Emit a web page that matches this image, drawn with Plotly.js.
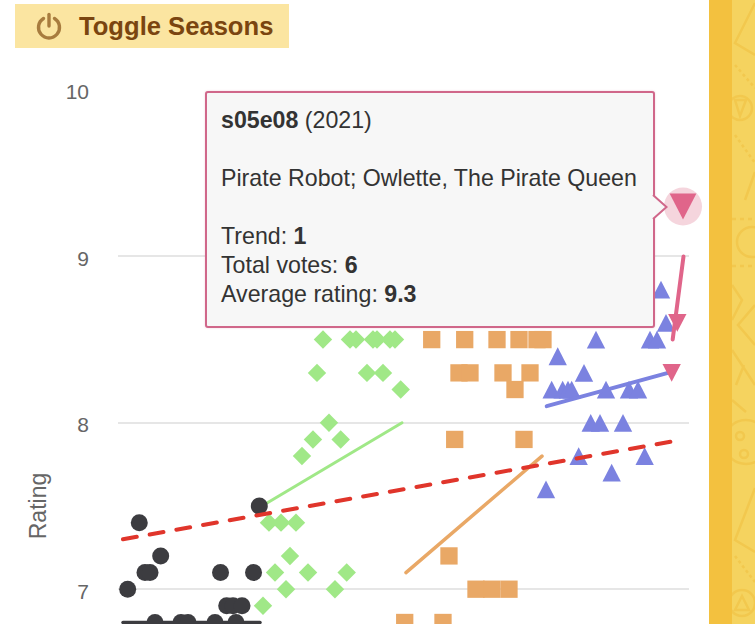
<!DOCTYPE html>
<html><head><meta charset="utf-8">
<script src="https://cdn.plot.ly/plotly-3.0.1.min.js"></script>
<style>
html,body{margin:0;padding:0;width:755px;height:624px;overflow:hidden;background:#fff;font-family:"Liberation Sans",Arial,sans-serif}
#chart{position:absolute;left:0;top:0;width:709px;height:1000px}
#strip{position:absolute;left:709px;top:0;width:46px;height:624px;background:#f3c13f}
#strip svg{position:absolute;left:23px;top:0}
#btn{position:absolute;left:15px;top:4px;width:274px;height:44px;background:#fbe5a1;display:flex;align-items:center;color:#7a4510;font-weight:bold;font-size:25.6px}
#btn svg{margin-left:20px;margin-right:16px}
#tip{position:absolute;left:205px;top:91px;width:446px;height:233px;background:#f7f7f7;border:2px solid #d0678a;border-radius:3px;box-shadow:0 0 2px rgba(208,103,138,.35);color:#333;font-size:23.2px;line-height:29px}
#tip div{position:absolute;left:14px;white-space:nowrap}
#notch{position:absolute;left:651px;top:193px}
</style></head><body>
<div id="chart"></div>
<div id="strip"><svg width="23" height="624" fill="none"><rect width="23" height="624" fill="#f5d35f"/>
<g stroke="#f2c84e" stroke-width="2.5" fill="none">
<path d="M23 3L3 43L23 55"/><path d="M3 65L23 88" stroke-dasharray="3 3"/><circle cx="8" cy="108" r="12"/><path d="M3 100H14L8 116Z"/>
<path d="M3 135L23 163" stroke-dasharray="3 3"/><path d="M23 172L13 200"/>
<path d="M0 219H23M0 266H23" stroke-dasharray="4 4"/><circle cx="20" cy="242" r="15"/>
<path d="M0 285L10 300L0 320M23 305L6 325L23 345"/><path d="M0 350L23 385M12 365L4 385M0 400L14 412"/>
<circle cx="14" cy="442" r="22"/><circle cx="8" cy="436" r="4"/><circle cx="12" cy="454" r="4"/>
<path d="M23 488L3 540L23 552"/><path d="M3 556L23 582" stroke-dasharray="3 3"/><circle cx="10" cy="603" r="13"/><path d="M3 610H17L10 596Z"/></g></svg></div>
<div id="btn"><svg width="28" height="28" viewBox="0 0 28 28" fill="none" stroke="#a87c3e" stroke-width="3.4" stroke-linecap="round"><path d="M8.5 6.5a10.5 10.5 0 1 0 11 0"/><path d="M14 2.5V14"/></svg><span>Toggle Seasons</span></div>
<div id="tip">
<div style="top:13px"><b>s05e08</b> (2021)</div>
<div style="top:71px">Pirate Robot; Owlette, The Pirate Queen</div>
<div style="top:129px">Trend: <b>1</b></div>
<div style="top:158px">Total votes: <b>6</b></div>
<div style="top:187px">Average rating: <b>9.3</b></div>
</div>
<svg id="notch" width="18" height="28"><path d="M2 2L15.5 14L2 26Z" fill="#f7f7f7"/><path d="M2 2L15.5 14L2 26" fill="none" stroke="#d0678a" stroke-width="2"/></svg>
<script>
// x = position along the episode axis; y = average rating
var s1x=[1.76,3.87,4.91,5.82,7.76,18.64,24.64,25.69,19.76,20.91,22.55,6.73,11.45,12.73,17.64,21.45];
var s1y=[7.0,7.4,7.1,7.1,7.2,7.1,7.1,7.5,6.9,6.9,6.9,6.8,6.8,6.8,6.8,6.8];
var s2x=[26.36,27.45,28.55,29.64,30.55,31.27,32.36,33.45,34.55,35.45,36.18,37.27,38.36,39.45,40.49,41.58,42.18,43.27,45.27,46.36,47.09,48.18,49.45,50.36,51.4];
var s2y=[6.9,7.4,7.1,7.4,7.0,7.2,7.4,7.8,7.1,7.9,8.3,8.5,8.0,7.0,7.9,7.1,8.5,8.5,8.3,8.5,8.5,8.3,8.5,8.5,8.2];
var s3x=[52.13,57.04,59.09,60.18,61.22,62,63.04,64,65.09,67.95,68.91,70,71.09,72.18,72.91,73.82,74.91,76.18,77.27];
var s3y=[6.8,8.5,6.8,7.2,7.9,8.3,8.5,8.3,7.0,7.0,8.5,8.3,7.0,8.2,8.5,7.9,8.3,8.5,8.5];
var s4x=[77.82,78.85,79.95,80.85,81.82,82.49,83.76,84.73,85.95,86.91,87.64,88.73,89.76,91.82,92.91,94.55,95.76,96.73,98,98.73,99.64];
var s4y=[7.6,8.2,8.4,8.2,8.2,8.2,7.8,8.3,8.0,8.5,8.0,8.2,7.7,8.0,8.2,8.2,7.8,8.5,8.5,8.8,8.6];
var s5x=[100.67,101.69];
var s5y=[8.3,8.6];
var hoverX=[102.73]; var hoverY=[9.3];
var trendAllX=[0.91,101.09]; var trendAllY=[7.3,7.89];
var t1x=[0.91,25.82]; var t1y=[6.8,6.8];
var t2x=[26.18,51.64]; var t2y=[7.5,8.0];
var t3x=[52.36,77.09]; var t3y=[7.1,7.8];
var t4x=[77.95,100]; var t4y=[8.1,8.3];
var t5x=[100.85,102.82]; var t5y=[8.5,9.0];
var colors={s1:'#3c3c40',s2:'#a0e887',s3:'#e9a866',s4:'#7b82e0',s5:'#e0658a'};
var yTicks=[7,8,9,10];
function line(x,y,c,w){return {x:x,y:y,mode:'lines',cliponaxis:false,line:{color:c,width:w},hoverinfo:'skip',showlegend:false};}
function pts(x,y,sym,size,c){return {x:x,y:y,mode:'markers',cliponaxis:false,marker:{symbol:sym,size:size,color:c,line:{width:0}},hoverinfo:'skip',showlegend:false};}
var traces=[
 line(t2x,t2y,colors.s2,3), line(t3x,t3y,colors.s3,3.5),
 pts(hoverX,hoverY,'circle',38,'#f5d5dd'),
 pts(s2x,s2y,'diamond',14.2,colors.s2),
 pts(s3x,s3y,'square',17.3,colors.s3),
 pts(s4x,s4y,'triangle-up',15.9,colors.s4),
 line(t4x,t4y,colors.s4,4),
 line(t5x,t5y,colors.s5,4),
 pts(s5x,s5y,'triangle-down',15.9,colors.s5),
 pts(hoverX,hoverY,'triangle-down',23.2,colors.s5),
 pts(s1x,s1y,'circle',17,colors.s1),
 line(t1x,t1y,colors.s1,3.5),
 line(trendAllX,trendAllY,'#e0352b',4)
];
traces[12].line.dash='14px,13.1px';
var layout={width:709,height:1000,margin:{l:118,r:20,t:90,b:78},paper_bgcolor:'rgba(0,0,0,0)',plot_bgcolor:'rgba(0,0,0,0)',
 font:{family:'"Liberation Sans",Arial,sans-serif',color:'#666'},
 xaxis:{range:[0,103.82],showgrid:false,zeroline:false,showticklabels:false,ticks:'',showline:false},
 yaxis:{range:[5,10],tickvals:yTicks,ticktext:yTicks.map(String),gridcolor:'#e6e6e6',gridwidth:2,zeroline:false,showline:false,ticks:'',ticklabelstandoff:28,
  tickfont:{size:21,color:'#666'},title:{text:'Rating',font:{size:23,color:'#666'},standoff:12},automargin:false}
};
Plotly.newPlot('chart',traces,layout,{displayModeBar:false,staticPlot:true}).then(function(){
 var S=1.49;
 document.querySelectorAll('.scatterlayer path.point').forEach(function(p){
  var a=p.getAttribute('d');
  var up=a.match(/^M-[\d.]+,[\d.]+H[\d.]+L0,-([\d.]+)Z$/), dn=a.match(/^M-[\d.]+,-[\d.]+H[\d.]+L0,([\d.]+)Z$/);
  if(up||dn){var r=parseFloat((up||dn)[1]),d=S*r/4;p.setAttribute('transform',p.getAttribute('transform')+' translate(0,'+(up?d:-d)+') scale(1,'+S+')');}
 });
 document.querySelectorAll('.scatterlayer .js-line').forEach(function(l){l.style.strokeLinecap='round';});
 document.querySelectorAll('.ytick text').forEach(function(t){t.setAttribute('transform',(t.getAttribute('transform')||'')+' translate(0,2)');});
});
</script>
</body></html>
